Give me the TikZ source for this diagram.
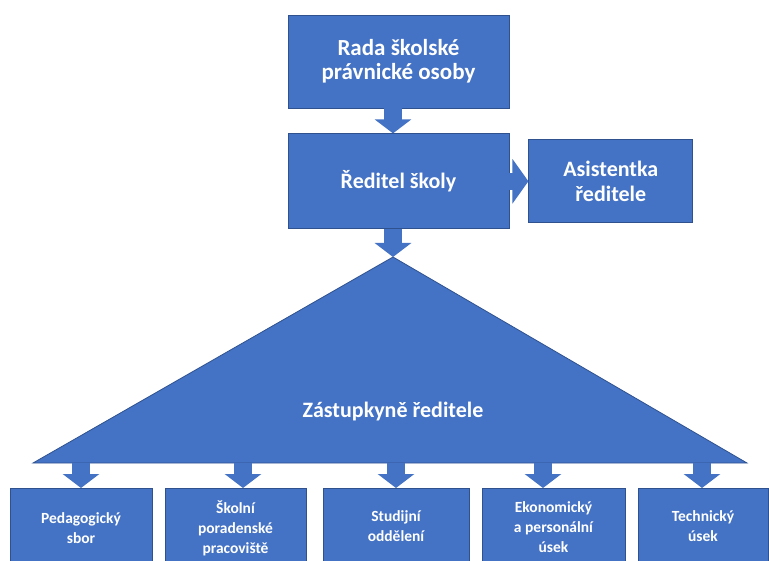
\documentclass[tikz,border=0pt]{standalone}
\usepackage{fontspec}
\setmainfont{Carlito}
\usetikzlibrary{arrows.meta,positioning}
\definecolor{boxblue}{HTML}{4472C4}
\definecolor{edgeblue}{HTML}{2F528F}

\begin{document}
\begin{tikzpicture}[x=1pt,y=-1pt,
	box/.style={draw=edgeblue, fill=boxblue, line width=0.8pt, text=white, align=center, inner sep=0pt, font=\fontsize{22}{25}\selectfont\bfseries},
	unit/.style={draw=edgeblue, fill=boxblue, line width=0.8pt, minimum height=95pt, anchor=north, inner sep=0pt},
	unittxt/.style={text=white, align=center, font=\fontsize{15.5}{20}\selectfont\bfseries},
	barrow/.style={boxblue, line width=18pt, -{Triangle[width=36pt,length=14pt]}}]
\useasboundingbox (0,0) rectangle (769,561);
%----------------------------------------------------------
	% Top of the chart
	%------------------------------------------------------
	\node[box, minimum width=221pt, minimum height=93pt, font=\fontsize{23}{24}\selectfont\bfseries] (rada) at (398.5,61.5) {Rada školské\\právnické osoby};
	\node[box, minimum width=221pt, minimum height=95pt, below=25pt of rada] (reditel) {Ředitel školy};
	\node[box, minimum width=164pt, minimum height=83pt, right=19pt of reditel] (asist) {Asistentka\\ředitele};

	%Triangle
	%------------------------------------------------------
	\coordinate (apex) at (393,257);
	\coordinate (baseL) at (33,463);
	\coordinate (baseR) at (747,463);
	\draw[fill=boxblue, draw=edgeblue, line width=0.8pt] (apex) -- (baseR) -- (baseL) -- cycle;
	\node[text=white, font=\fontsize{22}{25}\selectfont\bfseries] (zast) at (393,412) {Zástupkyně ředitele};

	\coordinate (b1) at (81,463);
	\coordinate (b2) at (243,463);
	\coordinate (b3) at (396,463);
	\coordinate (b4) at (543,463);
	\coordinate (b5) at (702,463);

	%Units
	%------------------------------------------------------
	\node[unit, minimum width=142pt] (ped) at (81,488) {};
	\node[unit, minimum width=141pt] (skol) at (235.5,488) {};
	\node[unit, minimum width=146pt] (stud) at (396,488) {};
	\node[unit, minimum width=143pt] (eko) at (553.5,488) {};
	\node[unit, minimum width=130pt] (tech) at (703,488) {};

	\node[unittxt] (pedtxt) at ([yshift=-40pt]ped.north) {Pedagogický\\sbor};
	\node[unittxt] (skoltxt) at ([yshift=-40pt]skol.north) {Školní\\poradenské\\pracoviště};
	\node[unittxt] (studtxt) at ([yshift=-38pt]stud.north) {Studijní\\oddělení};
	\node[unittxt] (ekotxt) at ([yshift=-39pt]eko.north) {Ekonomický\\a personální\\úsek};
	\node[unittxt] (techtxt) at ([yshift=-38pt]tech.north) {Technický\\úsek};

	%Arrows
	%------------------------------------------------------
	\draw[barrow] (rada.south -| apex) -- (reditel.north -| apex);
	\draw[barrow, line width=17pt, -{Triangle[width=44pt,length=16pt]}] (reditel.east |- asist) -- (asist.west);
	\draw[barrow] (reditel.south -| apex) -- (apex);

	\draw[barrow] (b1) -- (b1 |- ped.north);
	\draw[barrow] (b2) -- (b2 |- skol.north);
	\draw[barrow] (b3) -- (b3 |- stud.north);
	\draw[barrow] (b4) -- (b4 |- eko.north);
	\draw[barrow] (b5) -- (b5 |- tech.north);
\end{tikzpicture}
\end{document}
